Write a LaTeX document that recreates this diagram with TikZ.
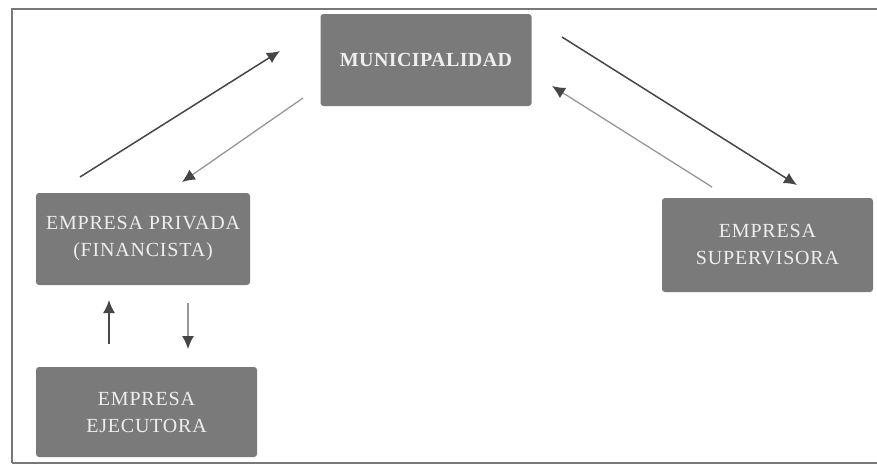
\documentclass[tikz,border=0pt]{standalone}
\usepackage{fontspec}
\setmainfont{Liberation Serif}
\usetikzlibrary{arrows.meta}
\definecolor{boxgray}{RGB}{122,122,122}
\definecolor{txtgray}{RGB}{238,238,238}
\definecolor{darkarr}{RGB}{70,70,70}
\definecolor{lightarr}{RGB}{150,150,150}
\definecolor{framegray}{RGB}{120,120,120}
\tikzset{
  box/.style={fill=boxgray, draw=none, rounded corners=3pt, text=txtgray,
    font=\fontsize{20}{27}\selectfont\addfontfeature{LetterSpace=4}, align=center, inner sep=0pt},
  darkline/.style={draw=darkarr, line width=1.5pt, -{Latex[length=13pt,width=12pt]}},
  lightline/.style={draw=lightarr, line width=1.3pt, -{Latex[length=13pt,width=12pt,color=darkarr]}},
}
\begin{document}
\begin{tikzpicture}[x=1pt,y=-1pt]
\useasboundingbox (0,0) rectangle (877,466);
\draw[framegray, line width=1.5pt] (12,463) -- (12,9) -- (877,9);
\draw[framegray, line width=2pt] (12,463) -- (877,463);
\node[box, minimum width=211pt, minimum height=92pt, font=\fontsize{20}{27}\selectfont\bfseries\addfontfeature{LetterSpace=2}] (muni) at (426,60) {MUNICIPALIDAD};
\node[box, minimum width=214pt, minimum height=92pt] (priv) at (143,239) {EMPRESA PRIVADA\\(FINANCISTA)};
\node[box, minimum width=221pt, minimum height=90pt] (ejec) at (146.5,412) {EMPRESA\\EJECUTORA};
\node[box, minimum width=211pt, minimum height=94pt] (super) at (767.5,245) {EMPRESA\\SUPERVISORA};
\coordinate (a1s) at (80,177);  \coordinate (a1e) at (280,51);
\coordinate (a2s) at (303,98);  \coordinate (a2e) at (182,182);
\coordinate (a3s) at (562,37);  \coordinate (a3e) at (797,185);
\coordinate (a4s) at (712,187); \coordinate (a4e) at (552,86);
\coordinate (a5s) at (109,344); \coordinate (a5e) at (109,300);
\coordinate (a6s) at (188,303); \coordinate (a6e) at (188,349);
\draw[darkline] (a1s) -- (a1e);
\draw[lightline] (a2s) -- (a2e);
\draw[darkline] (a3s) -- (a3e);
\draw[lightline] (a4s) -- (a4e);
\draw[darkline] (a5s) -- (a5e);
\draw[lightline] (a6s) -- (a6e);
\end{tikzpicture}
\end{document}
